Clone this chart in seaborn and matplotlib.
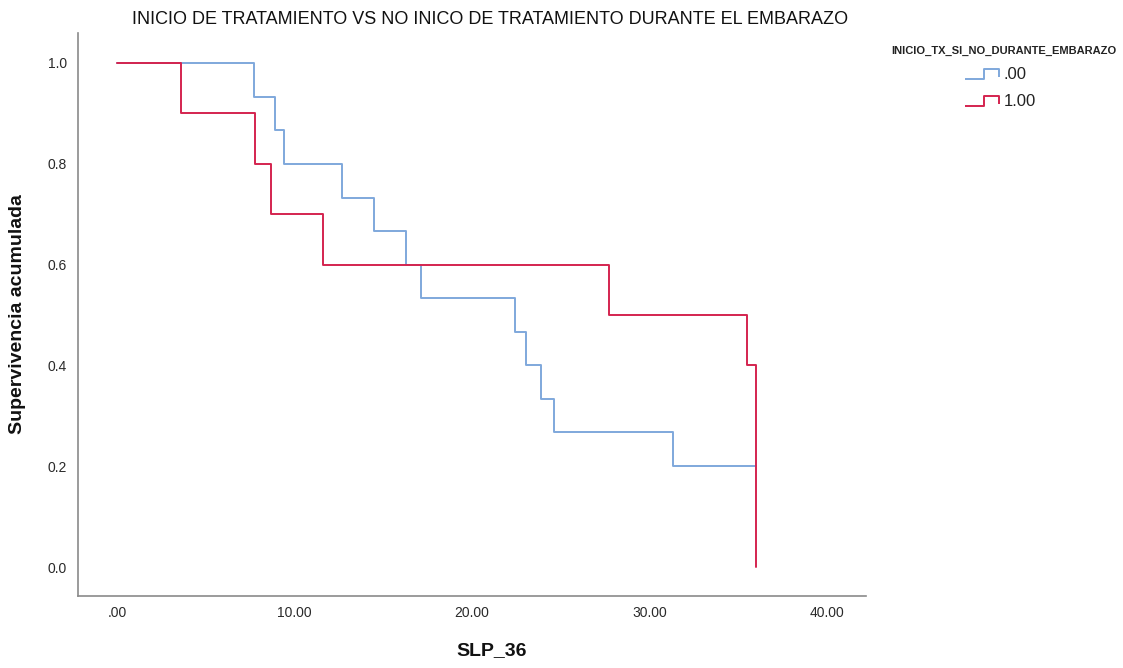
import numpy as np
import pandas as pd
import matplotlib
matplotlib.use("Agg")
import matplotlib.pyplot as plt
from matplotlib.lines import Line2D
from matplotlib.path import Path
from matplotlib.ticker import FuncFormatter
import seaborn as sns

# Kaplan-Meier step curves: time of each step and survival level from that time on
group_labels = [".00", "1.00"]

times_00 = [0.0, 7.7, 8.9, 9.4, 12.7, 14.5, 16.3, 17.15, 22.45, 23.05, 23.9, 24.6, 31.3, 36.0]
surv_00 = [1.0, 0.933, 0.867, 0.800, 0.733, 0.667, 0.600, 0.533, 0.467, 0.400, 0.333, 0.267, 0.200, 0.200]

times_100 = [0.0, 3.6, 7.8, 8.7, 11.6, 27.7, 35.5, 36.0]
surv_100 = [1.0, 0.9, 0.8, 0.7, 0.6, 0.5, 0.4, 0.0]

x_ticks = [0, 10, 20, 30, 40]
y_ticks = [0.0, 0.2, 0.4, 0.6, 0.8, 1.0]

title = "INICIO DE TRATAMIENTO VS NO INICO DE TRATAMIENTO DURANTE EL EMBARAZO"
x_label = "SLP_36"
y_label = "Supervivencia acumulada"
legend_title = "INICIO_TX_SI_NO_DURANTE_EMBARAZO"

df = pd.concat([
    pd.DataFrame({"SLP_36": times_00, "surv": surv_00, "grupo": group_labels[0]}),
    pd.DataFrame({"SLP_36": times_100, "surv": surv_100, "grupo": group_labels[1]}),
], ignore_index=True)

sns.set_theme(style="white")
plt.rcParams["font.family"] = ["Liberation Sans", "DejaVu Sans"]

colors = {".00": "#7fa8dc", "1.00": "#d4244f"}

fig = plt.figure(figsize=(11.23, 6.68), dpi=100)
ax = fig.add_axes([78 / 1123, 1 - 596 / 668, (866 - 78) / 1123, (596 - 33) / 668])

sns.lineplot(data=df, x="SLP_36", y="surv", hue="grupo", palette=colors,
             estimator=None, sort=False, drawstyle="steps-post",
             linewidth=1.4, legend=False, ax=ax)

ax.set_xlim(-2.2, 42.2)
ax.set_ylim(-0.0575, 1.0595)
ax.set_xticks(x_ticks)
ax.set_yticks(y_ticks)
ax.xaxis.set_major_formatter(FuncFormatter(lambda v, p: ".00" if v == 0 else f"{v:.2f}"))
ax.yaxis.set_major_formatter(FuncFormatter(lambda v, p: f"{v:.1f}"))
ax.tick_params(axis="both", length=0, labelsize=10, colors="#2a2a2a")
ax.tick_params(axis="x", pad=7)
ax.tick_params(axis="y", pad=8)

sns.despine(ax=ax)
for side in ("left", "bottom"):
    ax.spines[side].set_color("#8a8a8a")
    ax.spines[side].set_linewidth(1.2)

ax.set_xlabel(x_label, fontsize=14, fontweight="bold", color="#111111", va="center")
ax.set_ylabel(y_label, fontsize=14, fontweight="bold", color="#111111", va="center")
ax.xaxis.set_label_coords((492 - 78) / 788, (596 - 651) / 563)
ax.yaxis.set_label_coords((18 - 78) / 788, 0.5)

fig.text(490 / 1123, 1 - 19 / 668, title, ha="center", va="center",
         fontsize=13, color="#111111")

# Legend: bold title above two entries with step-shaped handles
fig.text(1004 / 1123, 1 - 51 / 668, legend_title, ha="center", va="center",
         fontsize=8, fontweight="bold", color="#222222")
step_marker = Path([(-1.0, -0.3), (0.0, -0.3), (0.0, 0.2), (0.8, 0.2), (0.8, -0.2)],
                   [Path.MOVETO, Path.LINETO, Path.LINETO, Path.LINETO, Path.LINETO])
handles = [Line2D([], [], linestyle="none", marker=step_marker, markersize=27,
                  markerfacecolor="none", markeredgecolor=colors[g], markeredgewidth=1.4)
           for g in group_labels]
leg = fig.legend(handles, group_labels,
                 loc="upper left", bbox_to_anchor=(966 / 1123, 1 - 67 / 668),
                 frameon=False, fontsize=12, handlelength=2.2, handletextpad=0.05,
                 labelspacing=0.7, borderpad=0, borderaxespad=0)
for t in leg.get_texts():
    t.set_color("#222222")

fig.savefig("out.png", dpi=100, facecolor="white")
